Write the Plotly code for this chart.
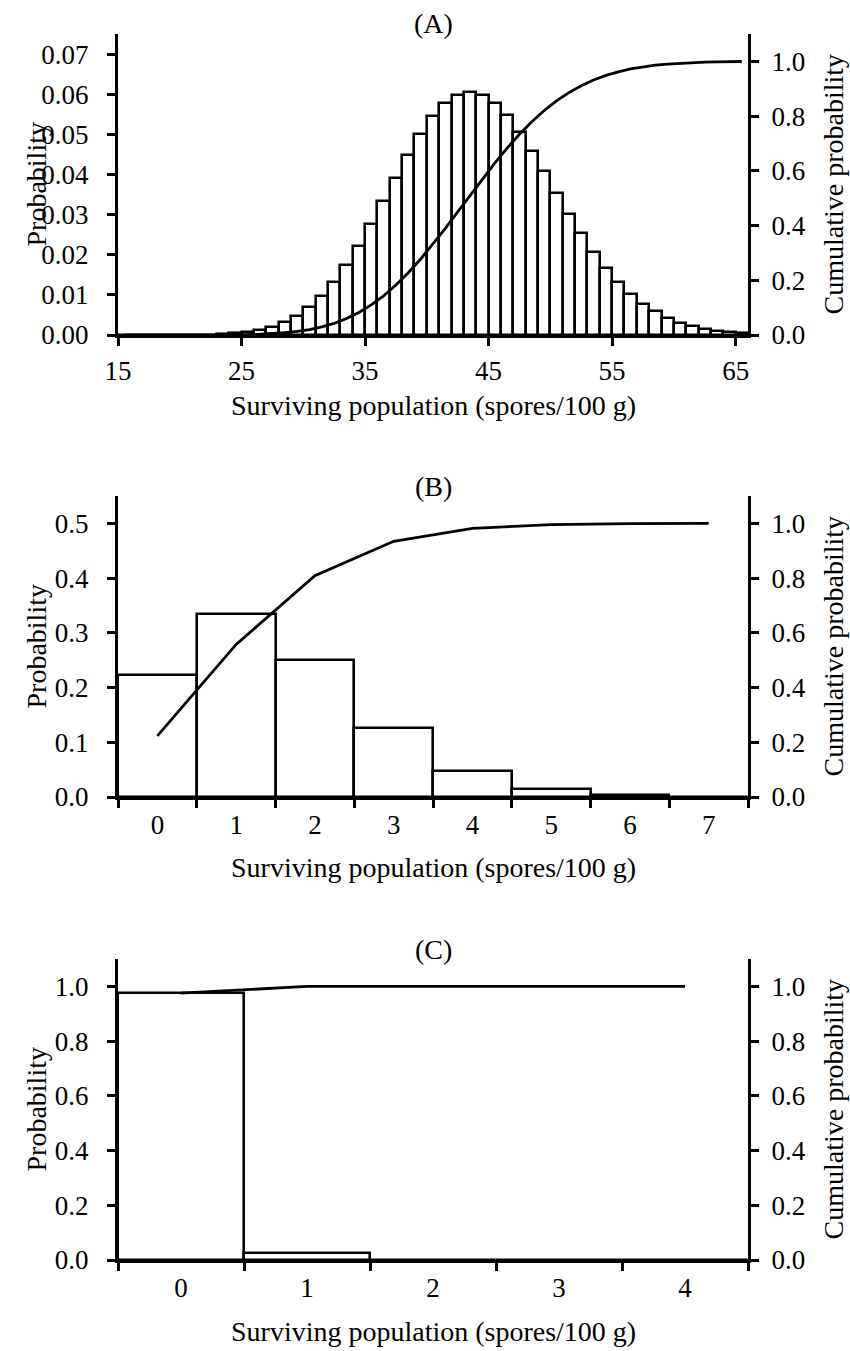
import plotly.graph_objects as go

FONT = "Liberation Serif"
W, H = 850, 1351

# ---- Panel A: surviving population, broad distribution ----
a_counts = list(range(15, 66))
a_prob = [0.0000, 0.0000, 0.0000, 0.0000, 0.0000, 0.0000, 0.0001, 0.0001, 0.0002, 0.0004,
          0.0008, 0.0013, 0.0020, 0.0032, 0.0048, 0.0069, 0.0097, 0.0132, 0.0174, 0.0222,
          0.0276, 0.0334, 0.0392, 0.0449, 0.0501, 0.0545, 0.0578, 0.0599, 0.0606, 0.0599,
          0.0579, 0.0547, 0.0507, 0.0459, 0.0408, 0.0355, 0.0302, 0.0253, 0.0208, 0.0167,
          0.0132, 0.0103, 0.0078, 0.0059, 0.0043, 0.0031, 0.0022, 0.0016, 0.0011, 0.0007,
          0.0005]
a_cum = [0.0000, 0.0000, 0.0000, 0.0000, 0.0000, 0.0001, 0.0001, 0.0002, 0.0005, 0.0009,
         0.0017, 0.0029, 0.0050, 0.0082, 0.0129, 0.0198, 0.0295, 0.0427, 0.0601, 0.0823,
         0.1099, 0.1433, 0.1825, 0.2275, 0.2776, 0.3321, 0.3899, 0.4497, 0.5103, 0.5702,
         0.6281, 0.6828, 0.7335, 0.7794, 0.8202, 0.8556, 0.8859, 0.9112, 0.9319, 0.9487,
         0.9619, 0.9722, 0.9800, 0.9859, 0.9902, 0.9934, 0.9956, 0.9972, 0.9983, 0.9990,
         0.9995]
a_ticks = [15, 25, 35, 45, 55, 65]

# ---- Panel B ----
b_counts = [0, 1, 2, 3, 4, 5, 6, 7]
b_prob = [0.2231, 0.3347, 0.2510, 0.1255, 0.0471, 0.0141, 0.0035, 0.0008]
b_cum = [0.2231, 0.5578, 0.8088, 0.9344, 0.9814, 0.9955, 0.9991, 0.9998]

# ---- Panel C ----
c_counts = [0, 1, 2, 3, 4]
c_prob = [0.9753, 0.0244, 0.0003, 0.0000, 0.0000]
c_cum = [0.9753, 0.9997, 1.0000, 1.0000, 1.0000]

x_title = "Surviving population (spores/100 g)"
y_title = "Probability"
y2_title = "Cumulative probability"


def fx(p):
    return p / W


def fy(p):
    return 1 - p / H


X_DOM = [fx(118), fx(748)]
panels = {  # top / bottom pixel rows of each plot area
    "A": (34, 335),
    "B": (496, 797),
    "C": (959, 1260),
}

FS = 28
tickfont = dict(family=FONT, size=27, color="black")
base = dict(showline=True, linecolor="black", linewidth=3, ticks="outside",
            ticklen=8, tickwidth=2.5, tickcolor="black", showgrid=False,
            zeroline=False, tickfont=tickfont, automargin=False)
left = dict(base, ticklabelstandoff=13)
right = dict(base, ticklabelstandoff=7)
bottom = dict(base, ticklabelstandoff=2)

bar_style = dict(color="white", line=dict(color="black", width=2.6))
line_style = dict(color="black", width=2.8)

fig = go.Figure()

# A
fig.add_trace(go.Bar(x=a_counts, y=a_prob, width=1, offset=0, marker=bar_style,
                     xaxis="x", yaxis="y", showlegend=False))
fig.add_trace(go.Scatter(x=[k + 0.5 for k in a_counts], y=a_cum, mode="lines",
                         line=line_style, xaxis="x", yaxis="y2", showlegend=False))
# B
fig.add_trace(go.Bar(x=b_counts, y=b_prob, marker=bar_style,
                     xaxis="x2", yaxis="y3", showlegend=False))
fig.add_trace(go.Scatter(x=b_counts, y=b_cum, mode="lines", line=line_style,
                         xaxis="x2", yaxis="y4", showlegend=False))
# C
fig.add_trace(go.Bar(x=c_counts, y=c_prob, marker=bar_style,
                     xaxis="x3", yaxis="y5", showlegend=False))
fig.add_trace(go.Scatter(x=c_counts, y=c_cum, mode="lines", line=line_style,
                         xaxis="x3", yaxis="y6", showlegend=False))


def ydom(key):
    top, bot = panels[key]
    return [fy(bot), fy(top)]


fig.update_layout(
    width=W, height=H,
    margin=dict(l=0, r=0, t=0, b=0),
    paper_bgcolor="white", plot_bgcolor="white",
    bargap=0,
    font=dict(family=FONT, size=FS, color="black"),
    xaxis=dict(bottom, domain=X_DOM, anchor="y", range=[15, 66], tickvals=a_ticks),
    yaxis=dict(left, domain=ydom("A"), anchor="x", range=[0, 0.075], tick0=0,
               dtick=0.01, tickformat=".2f"),
    yaxis2=dict(right, overlaying="y", side="right", anchor="x", range=[0, 1.1],
                tick0=0, dtick=0.2, tickformat=".1f"),
    xaxis2=dict(bottom, domain=X_DOM, anchor="y3", type="category",
                tickson="boundaries"),
    yaxis3=dict(left, domain=ydom("B"), anchor="x2", range=[0, 0.55], tick0=0,
                dtick=0.1, tickformat=".1f"),
    yaxis4=dict(right, overlaying="y3", side="right", anchor="x2", range=[0, 1.1],
                tick0=0, dtick=0.2, tickformat=".1f"),
    xaxis3=dict(bottom, domain=X_DOM, anchor="y5", type="category",
                tickson="boundaries"),
    yaxis5=dict(left, domain=ydom("C"), anchor="x3", range=[0, 1.1], tick0=0,
                dtick=0.2, tickformat=".1f"),
    yaxis6=dict(right, overlaying="y5", side="right", anchor="x3", range=[0, 1.1],
                tick0=0, dtick=0.2, tickformat=".1f"),
)

annotations = []
title_font = dict(family=FONT, size=FS, color="black")
for key, label in (("A", "(A)"), ("B", "(B)"), ("C", "(C)")):
    top, bot = panels[key]
    mid = (top + bot) / 2
    annotations.append(dict(text=label, x=fx(433), y=fy(top - 10), xref="paper",
                            yref="paper", xanchor="center", yanchor="middle",
                            showarrow=False, font=title_font))
    annotations.append(dict(text=x_title, x=fx(433), y=fy(bot + 71), xref="paper",
                            yref="paper", xanchor="center", yanchor="middle",
                            showarrow=False, font=title_font))
    annotations.append(dict(text=y_title, x=fx(36), y=fy(mid), xref="paper",
                            yref="paper", xanchor="center", yanchor="middle",
                            textangle=-90, showarrow=False, font=title_font))
    annotations.append(dict(text=y2_title, x=fx(833), y=fy(mid), xref="paper",
                            yref="paper", xanchor="center", yanchor="middle",
                            textangle=-90, showarrow=False, font=title_font))
fig.update_layout(annotations=annotations)

fig.write_html("out.html")
